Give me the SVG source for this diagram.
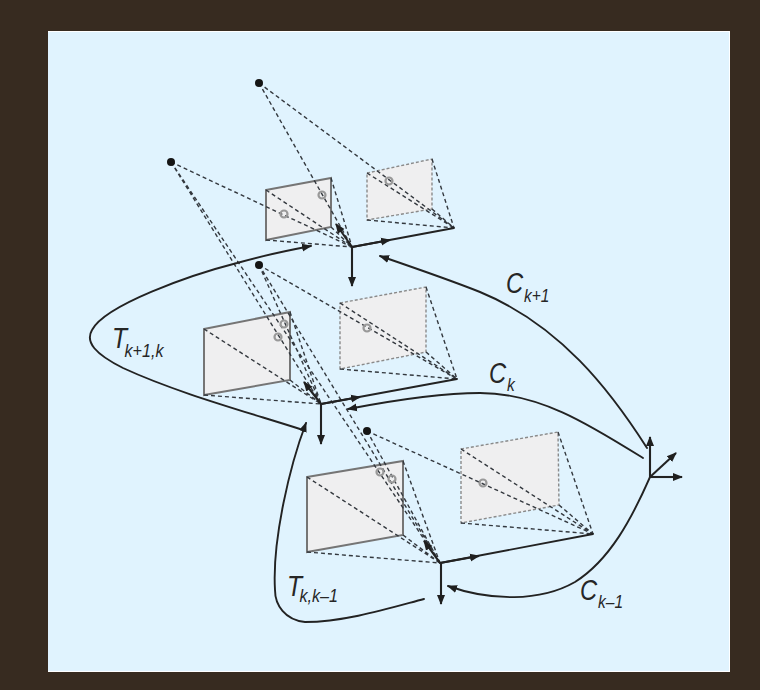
<svg xmlns="http://www.w3.org/2000/svg" width="760" height="690" viewBox="0 0 760 690">
<defs>
<marker id="ah" viewBox="0 0 10 10" refX="9" refY="5" markerWidth="10" markerHeight="10" markerUnits="userSpaceOnUse" orient="auto"><path d="M0 1 L10 5 L0 9 Z" fill="#1f1f1f"/></marker>
</defs>
<style>
.d{fill:none;stroke:#33383e;stroke-width:1.4;stroke-dasharray:4 3}
.c{fill:none;stroke:#222;stroke-width:1.9;stroke-linecap:round}
.ax{fill:none;stroke:#222;stroke-width:2.1;marker-end:url(#ah)}
.s{fill:#efeff0;stroke:#757575;stroke-width:2}
.g{fill:#efeff0;stroke:#8a8a8a;stroke-width:1.4;stroke-dasharray:3 2}
.o{fill:none;stroke:#999;stroke-width:2.2}
.p{fill:#151515}
text{font-family:"Liberation Sans",Arial,sans-serif;font-style:italic;fill:#262626}
.m{font-size:29px}
.u{font-size:19px}
</style>
<rect width="760" height="690" fill="#372b20"/>
<rect x="48" y="31" width="682" height="641" fill="#ffffff"/>
<rect x="48" y="32" width="681" height="639" fill="#e0f3fe"/>
<g id="image-planes">
<g id="plane-k1-left"><polygon class="s" points="266,190 331,178 331,227 266,240"/></g>
<g id="plane-k1-right"><polygon class="g" points="367,173 432,159 432,209 367,220"/></g>
<g id="plane-k-left"><polygon class="s" points="204,329 290,312 290,380 204,395"/></g>
<g id="plane-k-right"><polygon class="g" points="340,303 426,287 426,352 340,369"/></g>
<g id="plane-k0-left"><polygon class="s" points="307,477 403,461 403,535 307,552"/></g>
<g id="plane-k0-right"><polygon class="g" points="461,449 558,432 559,505 461,523"/></g>
</g>
<g id="connectors">
<g id="rays">
<path class="d" d="M259 83L352 247M259 83L454 228M171 162L352 247M171 162L321 404M171 162L440 563M259 265L321 404M259 265L457 379M259 265L440 563M367 431L440 563M367 431L593 534"/>
<path class="d" d="M266 190L352 247M331 178L352 247M331 227L352 247M266 240L352 247M367 173L454 228M432 159L454 228M432 209L454 228M367 220L454 228"/>
<path class="d" d="M204 329L321 404M290 312L321 404M290 380L321 404M204 395L321 404M340 303L457 379M426 287L457 379M426 352L457 379M340 369L457 379"/>
<path class="d" d="M307 477L440 563M403 461L440 563M403 535L440 563M307 552L440 563M461 449L593 534M558 432L593 534M559 505L593 534M461 523L593 534"/>
</g>
<g id="camera-axes">
<path class="c" d="M352 247L454 228M321 404L457 379M440 563L593 534"/>
<path class="ax" d="M352 247L390 240"/><path class="ax" d="M321 404L360 397"/><path class="ax" d="M440 563L479 556"/>
<path class="ax" d="M352 247L336 224"/><path class="ax" d="M321 404L304 382"/><path class="ax" d="M440 563L424 541"/>
<path class="ax" d="M352 247V286"/><path class="ax" d="M321 404V444"/><path class="ax" d="M441 563V604"/>
</g>
<g id="world-axes">
<path class="ax" d="M650 477V437"/><path class="ax" d="M650 477L676 453"/><path class="ax" d="M650 477H682"/>
</g>
<g id="curves">
<path class="c" style="marker-end:url(#ah)" d="M300 429C240 410 175 392 123 368C95 354 85 342 92 330C105 305 190 275 237 263C265 255 290 250 311 246"/>
<path class="c" style="marker-end:url(#ah)" d="M424 599C390 608 345 622 305 622C285 620 275 605 275 590C272 540 290 465 306 423"/>
<path class="c" style="marker-end:url(#ah)" d="M647 448C610 390 560 325 480 292C450 280 415 268 380 256"/>
<path class="c" style="marker-end:url(#ah)" d="M643 458C590 425 540 393 480 393C440 393 395 400 348 409"/>
<path class="c" style="marker-end:url(#ah)" d="M650 477C632 518 610 560 575 582C540 602 490 601 448 586"/>
</g>
</g>
<g id="points">
<circle class="p" cx="259" cy="83" r="4"/><circle class="p" cx="171" cy="162" r="4"/><circle class="p" cx="259" cy="265" r="4"/><circle class="p" cx="367" cy="431" r="4"/>
</g>
<g id="projections">
<circle class="o" cx="322" cy="195" r="3.5"/><circle class="o" cx="284" cy="214" r="3.5"/><circle class="o" cx="389" cy="181" r="3.5"/>
<circle class="o" cx="284" cy="324" r="3.5"/><circle class="o" cx="278" cy="337" r="3.5"/><circle class="o" cx="367" cy="328" r="3.5"/>
<circle class="o" cx="380" cy="472" r="3.5"/><circle class="o" cx="392" cy="479" r="3.5"/><circle class="o" cx="483" cy="483" r="3.5"/>
</g>
<g id="labels">
<text transform="translate(112,348) scale(.85,1)"><tspan class="m">T</tspan><tspan class="u" dx="-3" dy="9">k+1,k</tspan></text>
<text transform="translate(506,293) scale(.82,1)"><tspan class="m">C</tspan><tspan class="u" dx="1" dy="9">k+1</tspan></text>
<text transform="translate(489,383) scale(.82,1)"><tspan class="m">C</tspan><tspan class="u" dx="1" dy="8">k</tspan></text>
<text transform="translate(580,600) scale(.82,1)"><tspan class="m">C</tspan><tspan class="u" dx="1" dy="8">k–1</tspan></text>
<text transform="translate(287,596) scale(.85,1)"><tspan class="m">T</tspan><tspan class="u" dx="-3" dy="6">k,k–1</tspan></text>
</g>
</svg>
